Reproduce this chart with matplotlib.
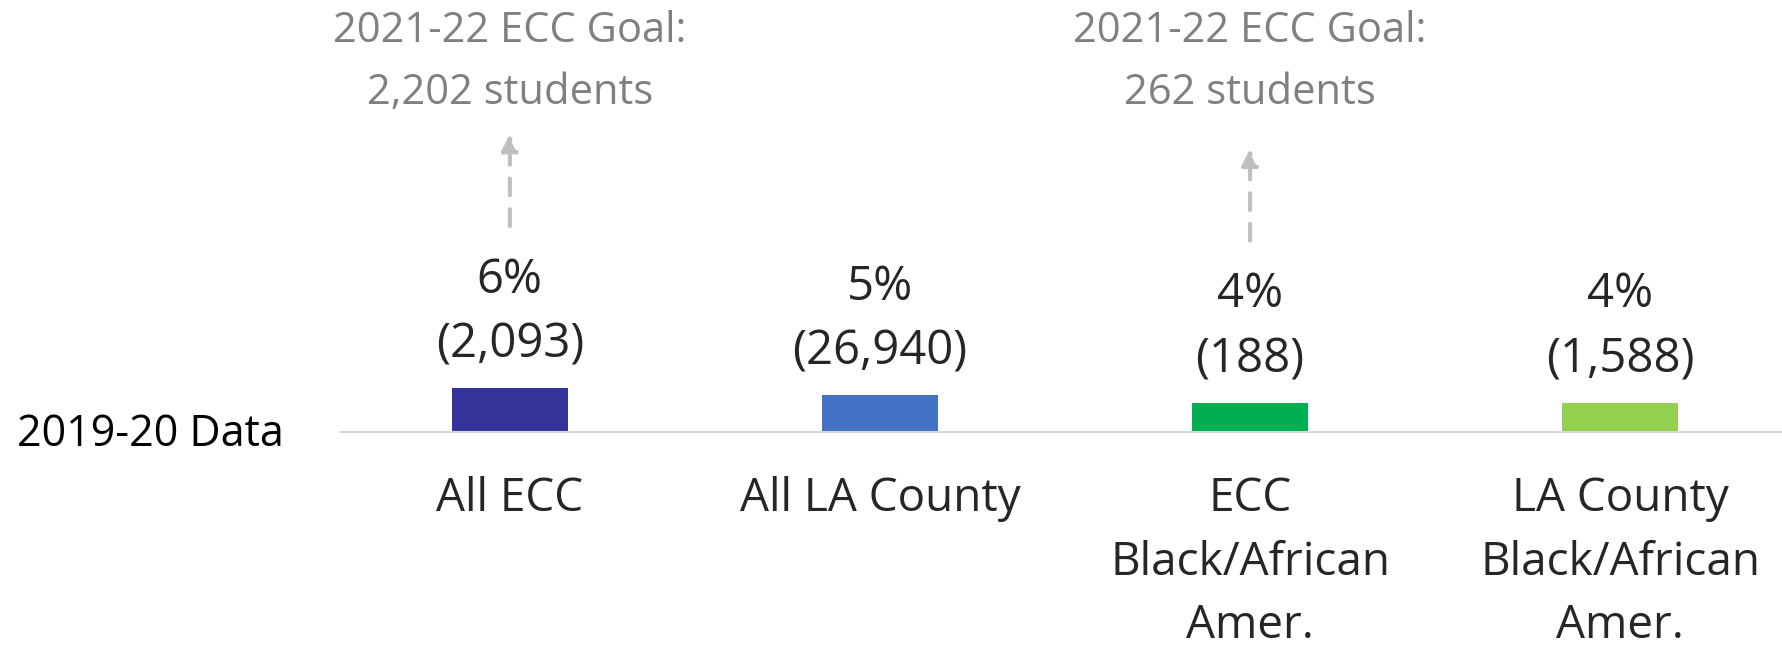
import matplotlib.pyplot as plt
from matplotlib import transforms

# chart data
categories = ["All ECC", "All LA County", "ECC\nBlack/African\nAmer.", "LA County\nBlack/African\nAmer."]
pcts = [6, 5, 4, 4]
counts = [2093, 26940, 188, 1588]
colors = ["#333399", "#4472C4", "#00B050", "#92D050"]
goal_idx = [0, 2]
goal_labels = ["2021-22 ECC Goal:\n2,202 students", "2021-22 ECC Goal:\n262 students"]
row_label = "2019-20 Data"

plt.rcParams['font.family'] = ['Open Sans', 'DejaVu Sans']

W, H = 1783, 656
fig = plt.figure(figsize=(W / 100, H / 100), dpi=100)
base = 432
ax = fig.add_axes([340 / W, 1 - base / H, (W - 340) / W, base / H])
ax.set_ylim(0, base / 7.33)
ax.set_xlim(-0.459, 3.44)

x = list(range(len(categories)))
ax.bar(x, pcts, width=0.314, color=colors, zorder=2)

for s in ["top", "left", "right"]:
    ax.spines[s].set_visible(False)
ax.spines["bottom"].set_color("#d9d9d9")
ax.spines["bottom"].set_linewidth(1.5)
ax.set_yticks([])
ax.set_xticks(x, categories, fontsize=33, color="#262626", linespacing=1.5)
ax.tick_params(axis="x", length=0, pad=32)

# value labels
for i, (p, n) in enumerate(zip(pcts, counts)):
    ax.annotate(f"{p}%\n({n:,})", xy=(i, p), xytext=(0, 14), textcoords="offset points",
                ha="center", va="bottom", fontsize=34, color="#262626", linespacing=1.48)

# goal arrows + text
blend = transforms.blended_transform_factory(ax.transData, fig.transFigure)
for i, lbl in zip(goal_idx, goal_labels):
    p = pcts[i]
    t_low = transforms.offset_copy(ax.transData, fig=fig, x=0, y=162, units="dots")
    t_high = transforms.offset_copy(ax.transData, fig=fig, x=0, y=254, units="dots")
    ax.annotate("", xy=(i, p), xycoords=t_high, xytext=(i, p), textcoords=t_low,
                arrowprops=dict(arrowstyle="-|>,head_length=1.0,head_width=0.5", color="#bfbfbf",
                                lw=2.9, linestyle=(0, (4.2, 3.4)), shrinkA=0, shrinkB=0),
                annotation_clip=False)
    ax.text(i, 1 - 62 / H, lbl, transform=blend, ha="center", va="center",
            fontsize=30, color="#808080", linespacing=1.6)

fig.text(17 / W, 1 - 435 / H, row_label, ha="left", va="center", fontsize=31, color="black")

fig.savefig("out.png", dpi=100)
